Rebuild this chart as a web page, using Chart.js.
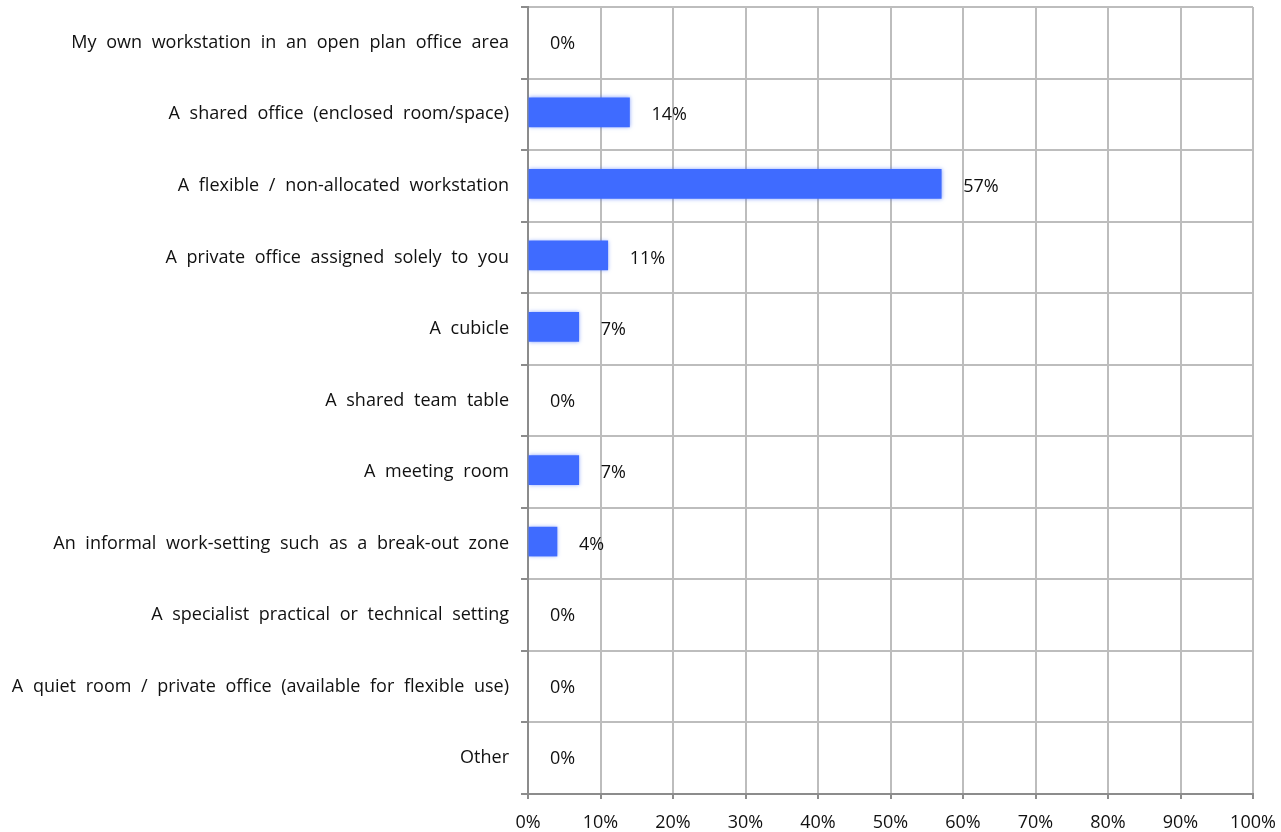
<!DOCTYPE html>
<html>
<head>
<meta charset="utf-8">
<script src="https://cdn.jsdelivr.net/npm/chart.js@4/dist/chart.umd.min.js"></script>
<style>
  html, body { margin: 0; padding: 0; background: #fff; }
  #wrap { position: relative; width: 1281px; height: 832px; }
</style>
</head>
<body>
<div id="wrap"><canvas id="c"></canvas></div>
<script>
// Workspace types and share of respondents (%)
const categories = [
  "My own workstation in an open plan office area",
  "A shared office (enclosed room/space)",
  "A flexible / non-allocated workstation",
  "A private office assigned solely to you",
  "A cubicle",
  "A shared team table",
  "A meeting room",
  "An informal work-setting such as a break-out zone",
  "A specialist practical or technical setting",
  "A quiet room / private office (available for flexible use)",
  "Other"
];
const shares = [0, 14, 57, 11, 7, 0, 7, 4, 0, 0, 0];
const xTicks = [0, 10, 20, 30, 40, 50, 60, 70, 80, 90, 100];

const FONT = "'Open Sans', sans-serif";
const BAR = "#3f6bff";

// Wider gaps between words in the category labels
const labelSpacing = {
  id: "labelSpacing",
  beforeDraw(chart) { chart.ctx.wordSpacing = "5px"; },
  beforeDatasetsDraw(chart) { chart.ctx.wordSpacing = "0px"; }
};

// Writes each bar's value just past its end
const valueLabels = {
  id: "valueLabels",
  afterDatasetsDraw(chart) {
    const ctx = chart.ctx;
    const meta = chart.getDatasetMeta(0);
    ctx.save();
    ctx.font = "18px " + FONT;
    ctx.fillStyle = "#111";
    ctx.textAlign = "left";
    ctx.textBaseline = "middle";
    meta.data.forEach((el, i) => {
      ctx.fillText(shares[i] + "%", el.x + 22, el.y + 1);
    });
    ctx.restore();
  }
};

// Soft edge around the bars, sitting slightly above the row centre
const softBars = {
  id: "softBars",
  beforeDatasetsDraw(chart) {
    const ctx = chart.ctx;
    ctx.save();
    ctx.translate(0, -2);
    ctx.shadowColor = "rgba(63,107,255,0.6)";
    ctx.shadowBlur = 4;
  },
  afterDatasetsDraw(chart) {
    chart.ctx.restore();
  }
};

new Chart(document.getElementById("c"), {
  type: "bar",
  data: {
    labels: categories,
    datasets: [{
      data: shares,
      backgroundColor: shares.map(v => v > 0 ? BAR : "rgba(0,0,0,0)"),
      borderWidth: 0,
      barThickness: 29
    }]
  },
  options: {
    indexAxis: "y",
    responsive: true,
    maintainAspectRatio: false,
    animation: false,
    layout: { padding: { top: 7, right: 28, left: 0, bottom: 0 } },
    plugins: {
      legend: { display: false },
      tooltip: { enabled: false }
    },
    scales: {
      x: {
        min: 0,
        max: 100,
        afterBuildTicks(scale) { scale.ticks = xTicks.map(v => ({ value: v })); },
        afterFit(scale) {
          scale.height = 38;
          scale.paddingLeft = 0;
          scale.paddingRight = 0;
        },
        grid: { color: "#bdbdbd", lineWidth: 2, tickLength: 5, tickColor: "#8c8c8c" },
        border: { color: "#8c8c8c", width: 2 },
        ticks: {
          color: "#111",
          font: { family: FONT, size: 18 },
          padding: 13,
          callback: v => v + "%"
        }
      },
      y: {
        afterFit(scale) {
          scale.width = 528;
          scale.paddingTop = 0;
          scale.paddingBottom = 0;
        },
        grid: { color: "#bdbdbd", lineWidth: 2, tickLength: 7, tickColor: "#8c8c8c", offset: true },
        border: { color: "#8c8c8c", width: 2 },
        ticks: {
          color: "#111",
          font: { family: FONT, size: 18 },
          padding: 12
        }
      }
    }
  },
  plugins: [labelSpacing, softBars, valueLabels]
});
</script>
</body>
</html>
